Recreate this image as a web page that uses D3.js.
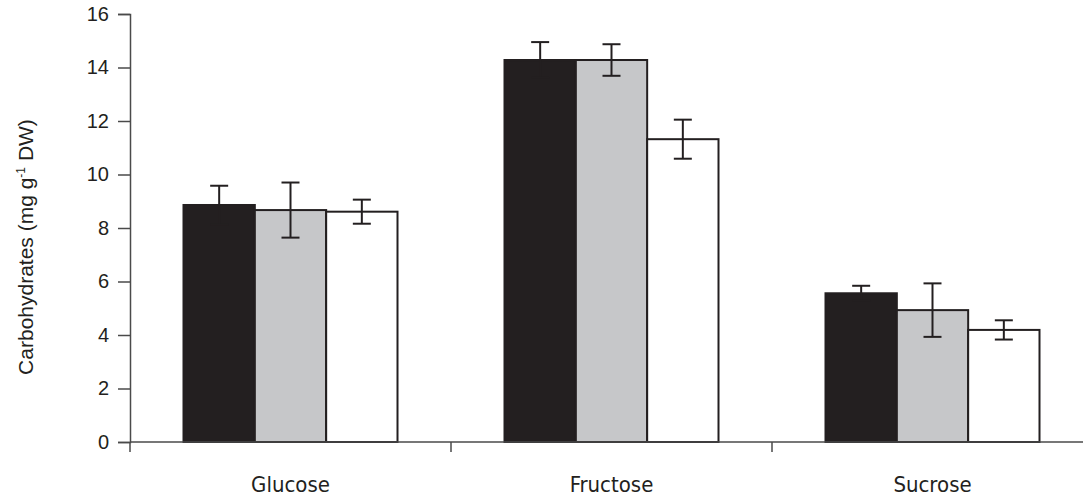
<!DOCTYPE html>
<html>
<head>
<meta charset="utf-8">
<script src="https://cdn.jsdelivr.net/npm/d3@7"></script>
<style>
  body { margin: 0; background: #fff; }
  svg text { fill: #231f20; }
</style>
</head>
<body>
<div id="root"></div>
<script>
const categories = ["Glucose", "Fructose", "Sucrose"];
const seriesNames = ["s1", "s2", "s3"];
const means = [
    [8.86, 8.67, 8.61],
    [14.28, 14.28, 11.32],
    [5.56, 4.93, 4.19]
];
const errors = [
    [0.72, 1.03, 0.45],
    [0.67, 0.59, 0.73],
    [0.28, 1.0, 0.36]
];
const yTicks = [0, 2, 4, 6, 8, 10, 12, 14, 16];
const fills = ["#231f20", "#c6c7c9", "#ffffff"];

const w = 1083;
const h = 499;

const svg = d3.select("#root")
    .append("svg")
    .attr("width", w)
    .attr("height", h);

const x = d3.scaleBand()
    .domain(categories)
    .range([130, 1093]);

const xInner = d3.scaleBand()
    .domain(seriesNames)
    .range([0, x.bandwidth() * 2 / 3]);

const y = d3.scaleLinear()
    .domain([0, 16])
    .range([442, 14]);

// y axis
const yAxis = svg.append("g")
    .attr("transform", "translate(130,0)")
    .call(d3.axisLeft(y).tickValues(yTicks).tickSize(12).tickPadding(9));
yAxis.select(".domain").attr("stroke", "#4a4a4a").attr("stroke-width", 1.5);
yAxis.selectAll(".tick line").attr("stroke", "#4a4a4a").attr("stroke-width", 1.5);
yAxis.selectAll(".tick text")
    .attr("font-family", "Liberation Sans, Arial, sans-serif")
    .attr("font-size", 20)
    .attr("fill", "#231f20");

svg.append("text")
    .attr("transform", `translate(33,247) rotate(-90)`)
    .attr("text-anchor", "middle")
    .attr("font-family", "Liberation Sans, Arial, sans-serif")
    .attr("font-size", 21)
    .html('Carbohydrates (mg g<tspan dy="-8" font-size="12">-1</tspan><tspan dy="8"> DW)</tspan>');

// bars
categories.forEach((c, ci) => {
    const g = svg.append("g")
        .attr("transform", `translate(${x(c) + x.bandwidth() / 6},0)`);
    g.selectAll("rect")
        .data(means[ci])
        .enter()
        .append("rect")
        .attr("x", (d, i) => xInner(seriesNames[i]))
        .attr("y", d => y(d))
        .attr("width", xInner.bandwidth())
        .attr("height", d => y(0) - y(d))
        .attr("fill", (d, i) => fills[i])
        .attr("stroke", "#231f20")
        .attr("stroke-width", 2);

    // error bars
    means[ci].forEach((m, i) => {
        const cx = xInner(seriesNames[i]) + xInner.bandwidth() / 2;
        const e = errors[ci][i];
        const eg = g.append("g").attr("stroke", "#231f20").attr("stroke-width", 2);
        eg.append("line")
            .attr("x1", cx).attr("x2", cx)
            .attr("y1", y(m - e)).attr("y2", y(m + e));
        [m - e, m + e].forEach(v => {
            eg.append("line")
                .attr("x1", cx - 9).attr("x2", cx + 9)
                .attr("y1", y(v)).attr("y2", y(v));
        });
    });
});

// x axis
const xAxis = svg.append("g")
    .attr("transform", `translate(0,${y(0)})`);
xAxis.append("line")
    .attr("x1", 130).attr("x2", 1093)
    .attr("stroke", "#4a4a4a").attr("stroke-width", 1.5);
xAxis.selectAll("line.sep")
    .data(categories)
    .enter()
    .append("line")
    .attr("class", "sep")
    .attr("x1", d => x(d)).attr("x2", d => x(d))
    .attr("y1", 0).attr("y2", 10)
    .attr("stroke", "#4a4a4a").attr("stroke-width", 1.5);
xAxis.selectAll("text")
    .data(categories)
    .enter()
    .append("text")
    .attr("x", d => x(d) + x.bandwidth() / 2)
    .attr("y", 50)
    .attr("text-anchor", "middle")
    .attr("font-family", "Liberation Sans Narrow, DejaVu Sans Condensed, sans-serif")
    .attr("font-size", 22)
    .text(d => d);
</script>
</body>
</html>
